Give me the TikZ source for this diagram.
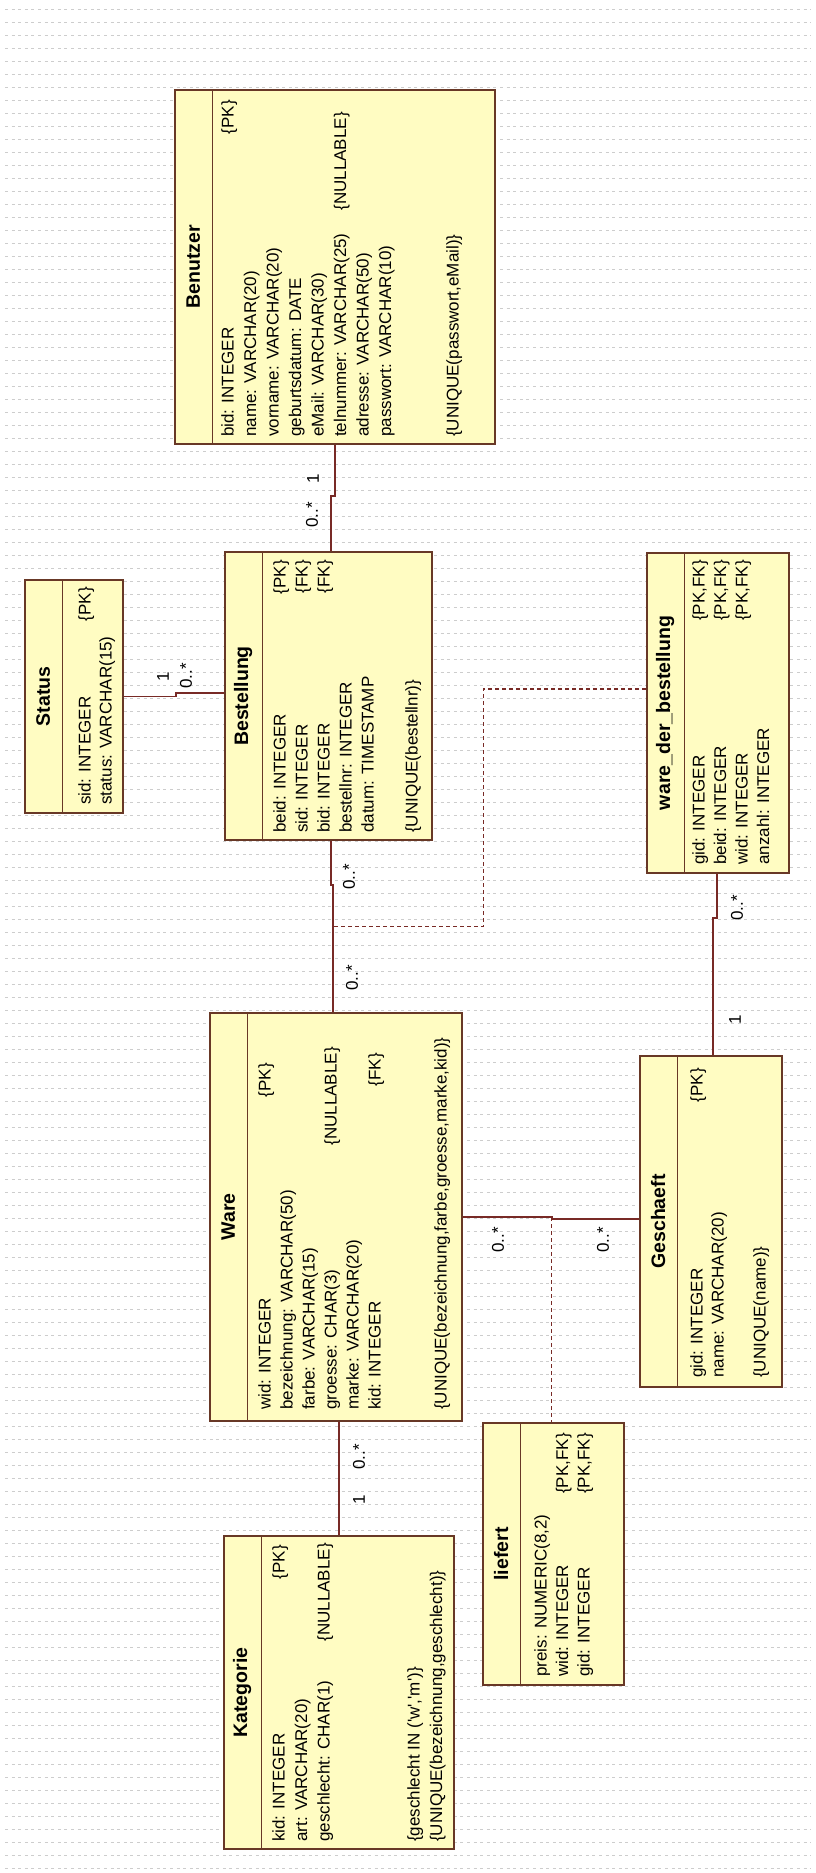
\documentclass[tikz,border=0pt]{standalone}
\usepackage{fontspec}
\setmainfont{Liberation Sans}
\usepackage{tikz}
\usetikzlibrary{calc,positioning}
\definecolor{tableFill}{RGB}{255,252,194}
\definecolor{tableEdge}{RGB}{104,56,38}
\definecolor{assocRed}{RGB}{120,42,38}
\definecolor{gridGray}{RGB}{205,205,205}

\tikzset{
  tablebox/.style={draw=tableEdge, fill=tableFill, line width=1.6pt, inner sep=0pt, rectangle},
  tablesep/.style={draw=tableEdge, line width=1.4pt},
  titletext/.style={rotate=90, inner sep=0pt, font=\fontsize{19.5}{22}\selectfont\bfseries},
  attrtext/.style={rotate=90, anchor=west, inner sep=0pt, text height=12.5pt, text depth=3.5pt, font=\fontsize{17}{20}\selectfont},
  tagtext/.style={attrtext, anchor=east},
  multtext/.style={rotate=90, inner sep=0pt, font=\fontsize{17}{20}\selectfont},
  assoc/.style={draw=assocRed, line width=1.5pt},
  assocclass/.style={draw=assocRed, line width=1.3pt, dash pattern=on 4pt off 3pt},
  gridline/.style={draw=gridGray, line width=0.9pt, dash pattern=on 3pt off 3.6pt}
}

% table box: name, x1, y1, x2, y2, title (pixel frame, y downwards)
\newcommand{\dbtable}[6]{%
  \node[tablebox, minimum width={(#4-#2)*1pt}, minimum height={(#5-#3)*1pt}] (#1) at ({(#2+#4)/2},{(#3+#5)/2}) {};
  \draw[tablesep] ([xshift=38pt]#1.north west) -- ([xshift=38pt]#1.south west);
  \node[titletext] (#1-title) at ([xshift=19pt]#1.west) {#6};
}
% attribute lines: name, first x, pitch, start y, list
\newcommand{\dbattrs}[5]{%
  \foreach \txt [count=\i from 0] in {#5}
    \node[attrtext] (#1-a\i) at ({#2+#3*\i},#4) {\txt};
}

\begin{document}
\begin{tikzpicture}[x=1pt, y=-1pt]
    \useasboundingbox (0,0) rectangle (816,1873);

    % background grid
    \foreach \k in {0,...,143}
        \draw[gridline] (5,{9+13*\k}) -- (811,{9+13*\k});

    % Benutzer
    \dbtable{benutzer}{175}{90}{495}{444}{Benutzer}
    \dbattrs{benutzer}{229}{22.5}{437}{bid: INTEGER, name: VARCHAR(20), vorname: VARCHAR(20), geburtsdatum: DATE, eMail: VARCHAR(30), telnummer: VARCHAR(25), adresse: VARCHAR(50), passwort: VARCHAR(10)}
    \node[attrtext] (benutzer-uq) at (454,437) {\{UNIQUE(passwort,eMail)\}};
    \node[tagtext] (benutzer-pk) at (229,100) {\{PK\}};
    \node[tagtext] (benutzer-null) at (341.5,112) {\{NULLABLE\}};

    % Status
    \dbtable{status}{25}{580}{123}{813}{Status}
    \dbattrs{status}{86}{21}{805}{sid: INTEGER, status: VARCHAR(15)}
    \node[tagtext] (status-pk) at (86,587) {\{PK\}};

    % Bestellung
    \dbtable{bestellung}{225}{552}{432}{840}{Bestellung}
    \dbattrs{bestellung}{281}{22}{833}{beid: INTEGER, sid: INTEGER, bid: INTEGER, bestellnr: INTEGER, datum: TIMESTAMP}
    \node[attrtext] (bestellung-uq) at (413,833) {\{UNIQUE(bestellnr)\}};
    \foreach \tg [count=\i from 0] in {PK,FK,FK}
        \node[tagtext] (bestellung-t\i) at ({281+22*\i},560) {\{\tg\}};

    % ware_der_bestellung
    \dbtable{wdb}{647}{553}{789}{873}{ware\_der\_bestellung}
    \dbattrs{wdb}{700}{21.5}{865}{gid: INTEGER, beid: INTEGER, wid: INTEGER, anzahl: INTEGER}
    \foreach \i in {0,1,2}
        \node[tagtext] (wdb-t\i) at ({700+21.5*\i},560) {\{PK,FK\}};

    % Ware
    \dbtable{ware}{210}{1013}{462}{1421}{Ware}
    \dbattrs{ware}{266}{22}{1410}{wid: INTEGER, bezeichnung: VARCHAR(50), farbe: VARCHAR(15), groesse: CHAR(3), marke: VARCHAR(20), kid: INTEGER}
    \node[attrtext] (ware-uq) at (442,1410) {\{UNIQUE(bezeichnung,farbe,groesse,marke,kid)\}};
    \node[tagtext] (ware-pk) at (266,1063) {\{PK\}};
    \node[tagtext] (ware-null) at (332,1047) {\{NULLABLE\}};
    \node[tagtext] (ware-fk) at (376,1053) {\{FK\}};

    % Geschaeft
    \dbtable{geschaeft}{640}{1056}{782}{1387}{Geschaeft}
    \dbattrs{geschaeft}{698}{21}{1378}{gid: INTEGER, name: VARCHAR(20)}
    \node[attrtext] (geschaeft-uq) at (761,1378) {\{UNIQUE(name)\}};
    \node[tagtext] (geschaeft-pk) at (698,1068) {\{PK\}};

    % Kategorie
    \dbtable{kategorie}{224}{1536}{454}{1849}{Kategorie}
    \dbattrs{kategorie}{280}{22.5}{1842}{kid: INTEGER, art: VARCHAR(20), geschlecht: CHAR(1)}
    \node[attrtext] (kategorie-ck) at (415,1842) {\{geschlecht IN (\textquotesingle w\textquotesingle,\textquotesingle m\textquotesingle)\}};
    \node[attrtext] (kategorie-uq) at (437.5,1842) {\{UNIQUE(bezeichnung,geschlecht)\}};
    \node[tagtext] (kategorie-pk) at (280,1545) {\{PK\}};
    \node[tagtext] (kategorie-null) at (325,1543) {\{NULLABLE\}};

    % liefert
    \dbtable{liefert}{483}{1423}{624}{1685}{liefert}
    \dbattrs{liefert}{542}{21.5}{1677}{{preis: NUMERIC(8,2)}, wid: INTEGER, gid: INTEGER}
    \node[tagtext] (liefert-t1) at (563.5,1433) {\{PK,FK\}};
    \node[tagtext] (liefert-t2) at (585,1433) {\{PK,FK\}};

    % associations
    \draw[assoc] (benutzer.south) -- ++(0,51) -| ([xshift=2.5pt]bestellung.north);
    \draw[assoc] (status.east) -- ++(52,0) |- ([yshift=3pt]bestellung.west);
    \coordinate (bw-top) at ([xshift=2.5pt]bestellung.south);
    \coordinate (bw-bot) at ([xshift=-3pt]ware.north);
    \draw[assoc] (bw-top) -- ++(0,44) -| (bw-bot);
    \coordinate (bw-mid) at ($(bw-top)!0.5!(bw-top |- bw-bot)$);
    \draw[assoc] ([xshift=-1pt]wdb.south) -- ++(0,44) -| ([xshift=2pt]geschaeft.north);
    \coordinate (wg-mid) at ([xshift=89pt]ware.east);
    \draw[assoc] (ware.east) -- (wg-mid) |- ([yshift=2.5pt]geschaeft.west);
    \draw[assoc] (kategorie.north) -- (kategorie.north |- ware.south);

    % association classes
    \draw[assocclass] ([yshift=24pt]wdb.west) -- ++(-163,0) |- (bw-mid);
    \draw[assocclass] (wg-mid) -- (wg-mid |- liefert.north);

    % multiplicities
    \node[multtext] (m-bb1) at (313,479) {1};
    \node[multtext] (m-bb2) at (312,515) {0..*};
    \node[multtext] (m-sb1) at (163,677) {1};
    \node[multtext] (m-sb2) at (186,676) {0..*};
    \node[multtext] (m-bw1) at (349,877) {0..*};
    \node[multtext] (m-bw2) at (352,978) {0..*};
    \node[multtext] (m-wg1) at (737,908) {0..*};
    \node[multtext] (m-wg2) at (735,1020) {1};
    \node[multtext] (m-gw1) at (498,1240) {0..*};
    \node[multtext] (m-gw2) at (603,1240) {0..*};
    \node[multtext] (m-wk1) at (359,1457) {0..*};
    \node[multtext] (m-wk2) at (359,1500) {1};
\end{tikzpicture}
\end{document}
